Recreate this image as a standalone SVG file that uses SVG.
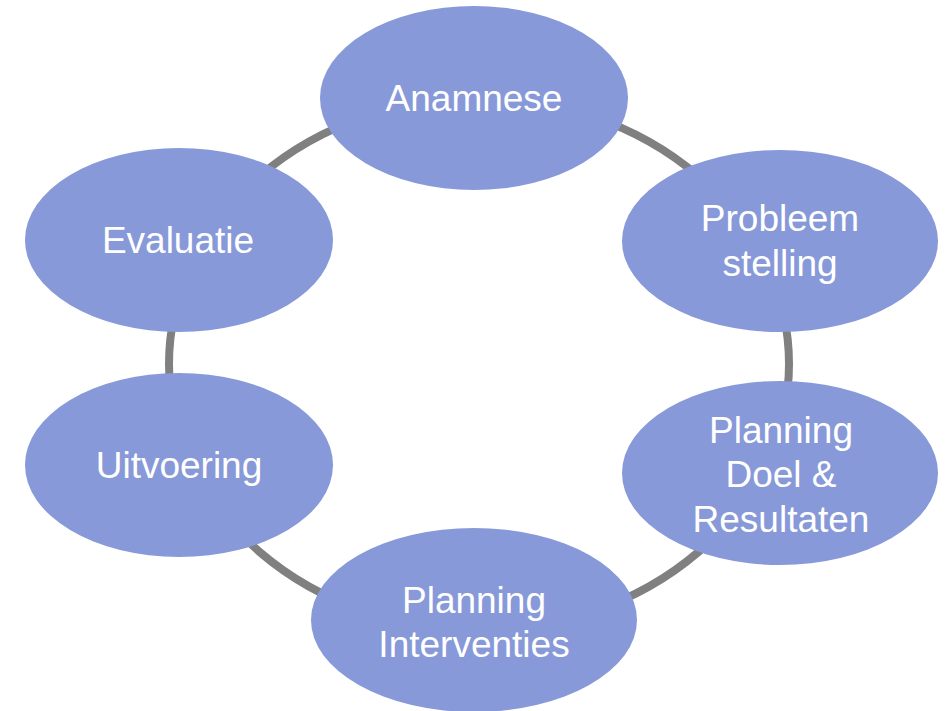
<svg xmlns="http://www.w3.org/2000/svg" width="947" height="711" viewBox="0 0 947 711">
<style>
.node{fill:#8799D8;}
.lbl{fill:#FFFFFF;font-family:"Liberation Sans",Arial,sans-serif;font-size:37px;text-anchor:middle;}
.conn{fill:none;stroke:#808080;stroke-width:8;}
</style>
<rect width="947" height="711" fill="#FFFFFF"/>
<g id="connectors">
<ellipse class="conn" cx="479" cy="364" rx="310" ry="266"/>
</g>
<g id="anamnese">
<ellipse class="node" cx="474" cy="98" rx="154" ry="92"/>
<text class="lbl" x="474" y="111">Anamnese</text>
</g>
<g id="probleemstelling">
<ellipse class="node" cx="780" cy="241" rx="158" ry="91"/>
<text class="lbl" x="780" y="231">Probleem</text>
<text class="lbl" x="780" y="276">stelling</text>
</g>
<g id="planning-doel">
<ellipse class="node" cx="780" cy="473" rx="158" ry="92"/>
<text class="lbl" x="781" y="443">Planning</text>
<text class="lbl" x="781" y="487">Doel &amp;</text>
<text class="lbl" x="781" y="532">Resultaten</text>
</g>
<g id="planning-interventies">
<ellipse class="node" cx="474" cy="620" rx="163" ry="92"/>
<text class="lbl" x="474" y="613">Planning</text>
<text class="lbl" x="474" y="657">Interventies</text>
</g>
<g id="uitvoering">
<ellipse class="node" cx="179" cy="465" rx="154" ry="92"/>
<text class="lbl" x="179" y="478">Uitvoering</text>
</g>
<g id="evaluatie">
<ellipse class="node" cx="179" cy="240" rx="154" ry="92"/>
<text class="lbl" x="178" y="253">Evaluatie</text>
</g>
</svg>
